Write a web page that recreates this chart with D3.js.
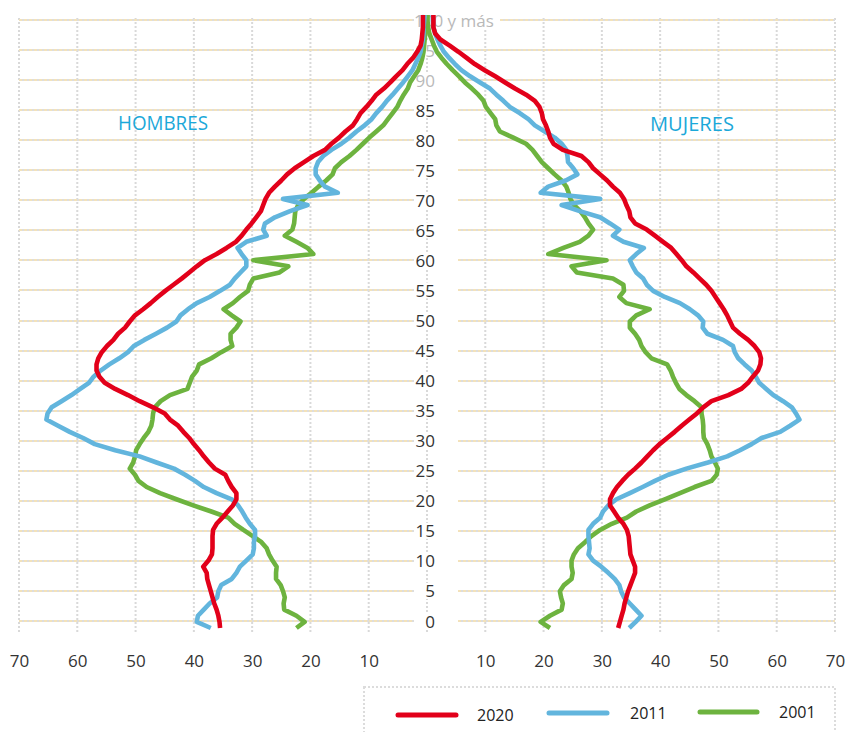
<!DOCTYPE html>
<html>
<head>
<meta charset="utf-8">
<script src="https://cdn.jsdelivr.net/npm/d3@7"></script>
<style>
  html, body { margin: 0; padding: 0; background: #fff; }
  svg { display: block; font-family: "Open Sans", "Noto Sans", sans-serif; }
</style>
</head>
<body>
<svg id="chart" width="846" height="732"></svg>
<script>
// ---------- DATA ----------
const ages = d3.range(0, 101); // single years 0 .. 100 y más
const ageTicks = [0,5,10,15,20,25,30,35,40,45,50,55,60,65,70,75,80,85,90,95,100];
const ageTickLabels = ["0","5","10","15","20","25","30","35","40","45","50","55","60","65","70","75","80","85","90","95","100 y más"];
const valueTicks = [-70,-60,-50,-40,-30,-20,-10,10,20,30,40,50,60,70];
const sideLabels = ["HOMBRES", "MUJERES"];
const years = ["2020", "2011", "2001"];

// Hombres (left), ages 0..100
const men2020 = [35.5,35.6,35.8,36.1,36.5,36.8,37.1,37.4,37.7,37.8,
  38.4,37.5,36.9,36.8,36.8,36.8,36.7,36.1,35.1,34.2,
  33.3,32.7,32.7,33.5,34.1,34.6,36.4,37.4,38.3,39.1,
  40.0,40.8,41.8,42.7,44.1,45.0,47.0,49.3,51.3,53.5,
  55.3,56.2,56.7,56.7,56.4,55.8,54.9,53.8,53.0,51.8,
  51.0,50.1,48.7,47.4,46.2,44.9,43.5,42.1,40.8,39.5,
  38.1,36.1,34.4,32.8,31.8,31.0,30.1,29.3,28.5,28.1,
  27.7,27.1,26.1,25.0,24.0,22.7,21.1,19.5,17.5,16.4,
  15.1,14.0,12.7,12.0,11.4,10.4,9.5,8.7,7.4,6.3,
  5.3,4.2,3.4,2.4,1.7,1.1,0.9,0.8,0.7,0.7,
  0.7];
const men2011 = [37.1,39.5,39.3,38.3,37.3,36.0,35.8,35.3,33.5,32.7,
  32.1,31.0,29.9,29.7,29.7,29.5,29.5,30.4,31.1,31.7,
  32.4,33.5,36.1,38.3,39.8,41.5,43.4,46.4,49.3,53.5,
  57.0,59.0,61.3,63.3,65.3,65.1,64.4,62.7,61.0,59.5,
  58.0,57.2,56.0,54.5,52.8,51.3,50.3,48.5,46.5,44.6,
  43.0,42.3,41.0,39.5,37.3,35.5,33.8,33.0,32.0,31.0,
  31.0,31.8,32.5,31.0,27.5,28.1,27.8,26.1,23.5,20.5,
  24.7,15.3,17.5,18.4,19.1,19.1,18.7,17.8,16.4,14.7,
  13.3,12.1,10.7,9.5,8.7,7.7,6.9,5.9,5.0,4.1,
  3.3,2.5,2.0,1.5,1.1,0.9,0.7,0.6,0.6,0.5,
  0.4];
const men2001 = [22.4,21.0,22.4,24.5,24.6,24.4,24.7,25.1,25.9,25.9,
  25.8,26.5,27.1,27.5,28.4,29.9,31.5,33.0,34.1,37.0,
  40.1,43.0,45.8,48.1,49.5,50.1,51.0,50.4,50.1,49.9,
  49.3,48.6,47.8,47.3,47.1,47.0,46.7,45.7,44.1,41.1,
  40.7,40.3,39.5,39.1,37.0,35.3,33.4,33.7,33.7,32.7,
  32.0,33.5,34.9,33.3,32.1,30.7,30.4,29.8,25.3,23.8,
  29.8,19.5,20.5,22.4,24.4,23.1,22.8,22.7,22.6,22.1,
  21.1,19.8,18.6,17.3,16.2,15.8,14.7,13.3,12.1,11.0,
  9.9,8.7,7.5,6.7,5.9,5.1,4.6,4.0,3.3,2.9,
  2.2,1.5,1.1,0.8,0.6,0.5,0.4,0.3,0.2,0.2,
  0.2];

// Mujeres (right), ages 0..100
const women2020 = [32.8,33.1,33.4,33.7,33.9,34.2,34.5,34.9,35.3,35.7,
  35.7,35.3,34.9,34.8,34.7,34.6,34.3,33.7,32.8,32.1,
  31.4,31.4,31.9,32.6,33.5,34.5,35.7,36.8,37.8,38.8,
  39.9,41.2,42.5,43.7,45.0,46.3,47.4,48.8,51.7,53.9,
  55.1,55.9,56.8,57.2,57.3,57.0,56.2,55.1,53.7,52.5,
  52.0,51.5,50.9,50.2,49.5,48.8,47.9,46.8,45.7,44.5,
  43.7,42.8,41.9,40.5,39.1,37.7,35.7,34.9,34.7,34.2,
  33.8,33.1,31.9,30.9,29.7,28.5,27.7,26.5,23.3,21.7,
  21.1,20.8,20.4,19.9,19.7,19.3,18.5,17.0,15.1,13.4,
  11.7,9.9,8.2,6.8,5.4,3.9,2.3,1.4,1.1,1.1,
  1.1];
const women2011 = [34.7,35.8,36.8,35.8,34.8,33.8,33.3,33.0,32.2,31.1,
  29.9,28.5,27.7,27.9,27.8,27.7,27.7,28.5,29.7,30.2,
  31.1,32.5,34.8,37.0,39.1,41.4,44.5,48.2,51.5,53.7,
  55.7,57.4,60.6,62.3,63.9,63.3,62.6,61.1,59.4,58.2,
  57.0,56.4,55.7,54.5,53.4,52.8,52.5,50.8,48.1,47.3,
  47.4,46.5,45.1,43.4,40.8,38.8,37.7,37.1,35.9,35.3,
  34.8,35.9,37.2,33.7,31.9,33.0,31.4,29.7,26.2,23.1,
  29.7,19.5,20.8,23.8,25.8,25.1,24.2,24.1,23.9,23.1,
  21.9,20.2,18.5,17.4,15.9,14.2,13.1,11.9,10.8,9.1,
  7.4,5.9,4.8,3.8,2.9,2.3,1.8,1.4,1.1,1.0,
  1.0];
const women2001 = [21.1,19.5,21.1,23.1,23.3,23.0,22.8,23.5,24.8,25.0,
  24.8,24.8,25.2,25.9,27.1,28.2,29.7,31.7,34.3,35.9,
  38.2,40.8,43.4,45.9,48.8,49.7,49.9,49.4,48.8,48.5,
  48.1,47.5,47.4,47.4,47.3,47.1,47.1,45.9,44.5,43.3,
  42.7,42.2,41.8,41.2,38.5,37.5,36.8,36.4,35.7,34.8,
  34.8,35.9,38.2,34.2,33.0,33.8,33.7,31.9,25.7,24.8,
  30.8,20.8,23.4,26.2,27.7,28.5,27.7,27.1,26.3,25.2,
  24.6,24.3,23.9,23.1,21.9,20.8,19.7,18.9,18.1,17.0,
  14.8,12.5,11.9,11.7,10.9,10.1,9.7,8.8,7.7,6.5,
  5.5,4.4,3.4,2.5,1.7,1.2,0.8,0.4,0.2,0.1,
  0.1];

const colors = { "2020": "#e2001a", "2011": "#62b5dd", "2001": "#6db33f" };

// ---------- SCALES ----------
const svg = d3.select("#chart");
const x = d3.scaleLinear().domain([-70, 70]).range([19, 835]);
const yGrid = d3.scaleLinear().domain([0, 100]).range([621, 20]);
const yLine = d3.scaleLinear().domain([0, 100]).range([628, 15]);

// ---------- GRID ----------
const grid = svg.append("g");
// vertical
grid.selectAll("line.v").data(d3.range(-70, 71, 10)).join("line")
  .attr("x1", d => x(d)).attr("x2", d => x(d))
  .attr("y1", 18).attr("y2", 634)
  .attr("stroke", "#d9d9d9").attr("stroke-width", 2)
  .attr("stroke-dasharray", "2,2");
// horizontal (two tone dotted)
ageTicks.forEach((a, i) => {
  const yy = Math.round(yGrid(a));
  const segs = [[x(-70), 414], [i === ageTicks.length - 1 ? 500 : 458, x(70)]];
  segs.forEach(([a0, a1]) => {
    grid.append("line").attr("x1", a0).attr("x2", a1).attr("y1", yy).attr("y2", yy)
      .attr("stroke", "#f3e2ba").attr("stroke-width", 2).attr("stroke-dasharray", "3,2");
    grid.append("line").attr("x1", a0 + 3).attr("x2", a1).attr("y1", yy).attr("y2", yy)
      .attr("stroke", "#dddddd").attr("stroke-width", 2).attr("stroke-dasharray", "2,3");
  });
});

// ---------- AGE LABELS (centre) ----------
const ageG = svg.append("g");
ageTicks.forEach((a, i) => {
  const yy = yGrid(a);
  const last = i === ageTicks.length - 1;
  ageG.append("rect").attr("x", 414).attr("y", yy - 8)
    .attr("width", last ? 86 : 44).attr("height", 16).attr("fill", "#fff");
  ageG.append("text")
    .attr("x", last ? 414 : 435).attr("y", yy + 6.5)
    .attr("text-anchor", last ? "start" : "end")
    .attr("font-size", 17)
    .attr("fill", a >= 90 ? "#b9b9b9" : "#333")
    .text(ageTickLabels[i]);
});

// ---------- BOTTOM AXIS ----------
const axis = svg.append("g").attr("transform", "translate(0,652)")
  .call(d3.axisBottom(x).tickValues(valueTicks).tickFormat(d => Math.abs(d)).tickSize(0));
axis.select(".domain").remove();
axis.selectAll("text").attr("font-size", 17).attr("fill", "#333")
  .attr("font-family", "\"Open Sans\", sans-serif");

// ---------- SIDE LABELS ----------
svg.append("text").attr("x", 163).attr("y", 130).attr("text-anchor", "middle")
  .attr("font-size", 20).attr("fill", "#1ba8d9")
  .attr("textLength", 90).attr("lengthAdjust", "spacingAndGlyphs").text(sideLabels[0]);
svg.append("text").attr("x", 692).attr("y", 131).attr("text-anchor", "middle")
  .attr("font-size", 20).attr("fill", "#1ba8d9")
  .attr("textLength", 84).attr("lengthAdjust", "spacingAndGlyphs").text(sideLabels[1]);

// ---------- LINES ----------
const series = [
  { year: "2001", men: men2001, women: women2001 },
  { year: "2011", men: men2011, women: women2011 },
  { year: "2020", men: men2020, women: women2020 }
];
const lineL = d3.line().x(d => x(-d[1])).y(d => yLine(d[0]));
const lineR = d3.line().x(d => x(d[1])).y(d => yLine(d[0]));
const lg = svg.append("g");
series.forEach(s => {
  lg.append("path").attr("d", lineL(ages.map((a, i) => [a, s.men[i]])))
    .attr("fill", "none").attr("stroke", colors[s.year]).attr("stroke-width", 4.6)
    .attr("stroke-linejoin", "round");
  lg.append("path").attr("d", lineR(ages.map((a, i) => [a, s.women[i]])))
    .attr("fill", "none").attr("stroke", colors[s.year]).attr("stroke-width", 4.6)
    .attr("stroke-linejoin", "round");
});

// ---------- LEGEND ----------
svg.append("rect").attr("x", 364).attr("y", 687).attr("width", 471).attr("height", 60)
  .attr("fill", "none").attr("stroke", "#dcdcdc").attr("stroke-width", 2)
  .attr("stroke-dasharray", "2,2");
const legendPos = [
  { year: "2020", x0: 398, x1: 456, ly: 715, tx: 477, ty: 721 },
  { year: "2011", x0: 549, x1: 607, ly: 713, tx: 630, ty: 719 },
  { year: "2001", x0: 700, x1: 757, ly: 712, tx: 779, ty: 718 }
];
legendPos.forEach(p => {
  svg.append("line").attr("x1", p.x0).attr("x2", p.x1).attr("y1", p.ly).attr("y2", p.ly)
    .attr("stroke", colors[p.year]).attr("stroke-width", 5).attr("stroke-linecap", "round");
  svg.append("text").attr("x", p.tx).attr("y", p.ty).attr("font-size", 16)
    .attr("fill", "#222").text(p.year);
});
</script>
</body>
</html>
